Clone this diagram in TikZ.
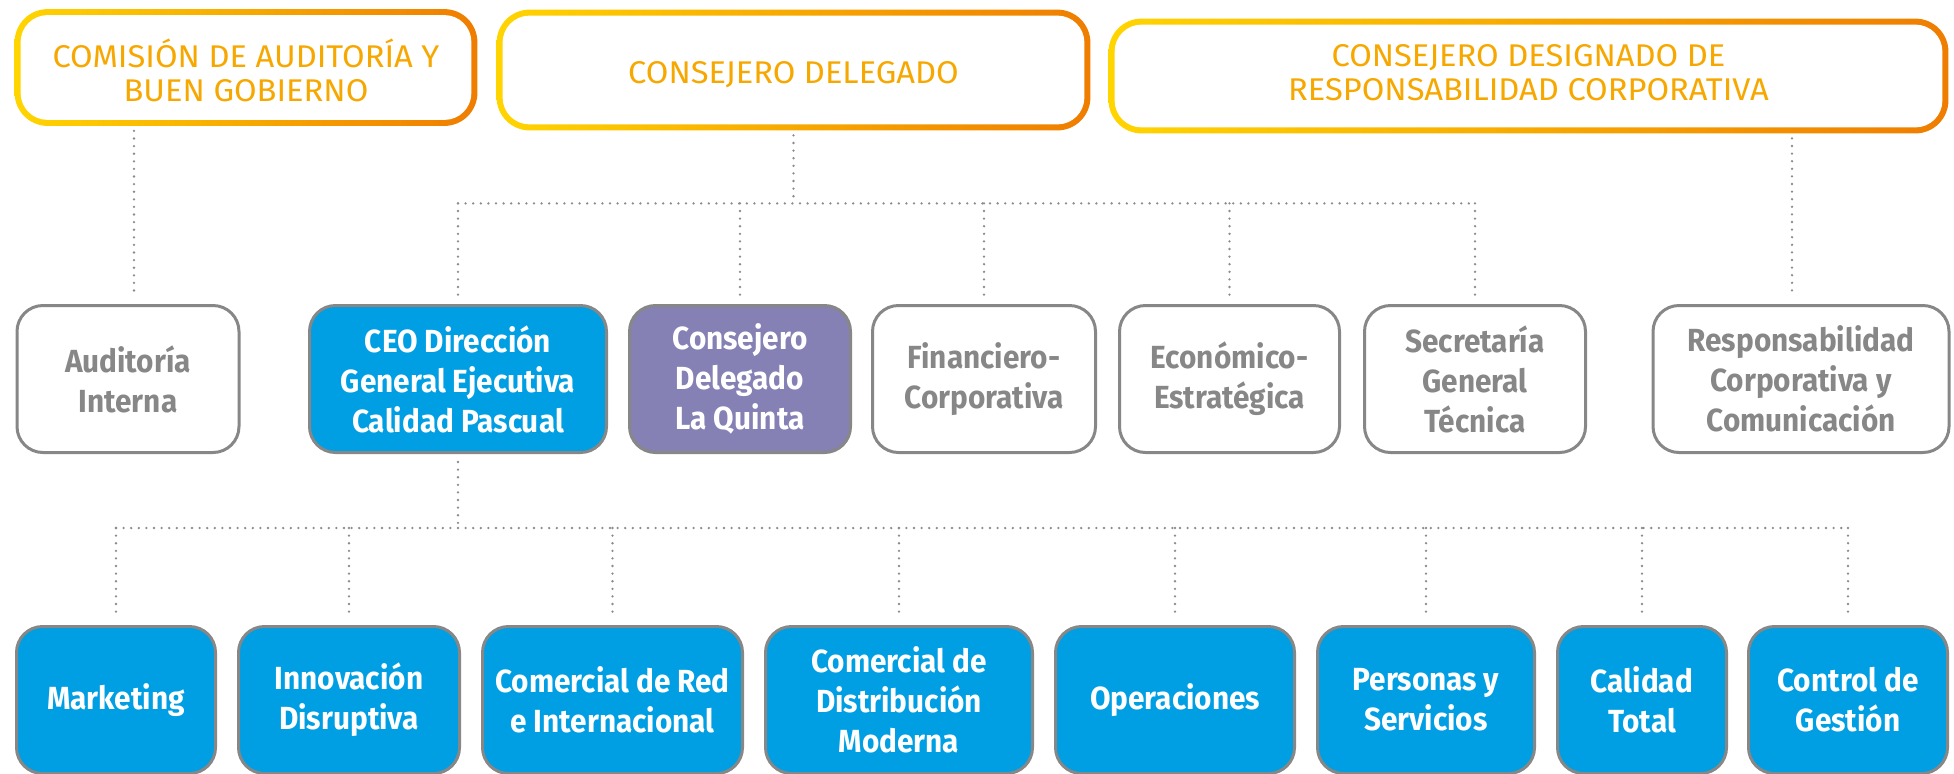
\documentclass[tikz,border=0pt]{standalone}
\usepackage{fontspec}
\setmainfont[FakeStretch=0.93]{Fira Sans}
\newfontfamily\titrefont[FakeStretch=1.04]{Fira Sans}
\usetikzlibrary{calc,backgrounds}
\definecolor{jaune}{HTML}{FFD500}
\definecolor{orangefonce}{HTML}{EF7D00}
\definecolor{titre}{HTML}{F7A800}
\definecolor{bord}{HTML}{878787}
\definecolor{gristexte}{HTML}{878787}
\definecolor{bleu}{HTML}{009FE3}
\definecolor{mauve}{HTML}{8581B5}
\definecolor{points}{HTML}{8C8C8C}
\tikzset{
  haut/.style={minimum height=55pt, inner sep=0pt, align=center, text=titre, text depth=0pt, font=\titrefont\fontsize{15.7}{17}\selectfont},
  boite/.style={draw=bord, line width=1.5pt, rounded corners=13pt, minimum height=73.5pt, inner sep=0pt, align=center, font=\bfseries\fontsize{16}{20}\selectfont},
  grise/.style={boite, fill=white, text=gristexte},
  bleue/.style={boite, fill=bleu, text=white},
  mauvee/.style={boite, fill=mauve, text=white},
  lien/.style={draw=points, line width=1.3pt, line cap=round, dash pattern=on 0pt off 3.8pt},
}
% cadre degrade jaune -> orange autour d'un noeud
\newcommand\anneau[1]{%
  \begin{scope}[on background layer]
    \shade[rounded corners=16.5pt, left color=jaune, right color=orangefonce]
      ([shift={(-1.5pt,1.5pt)}]#1.north west) rectangle ([shift={(1.5pt,-1.5pt)}]#1.south east);
    \fill[white, rounded corners=13.5pt]
      ([shift={(1.5pt,-1.5pt)}]#1.north west) rectangle ([shift={(-1.5pt,1.5pt)}]#1.south east);
  \end{scope}}
\begin{document}
\begin{tikzpicture}[x=0.5pt,y=-0.5pt] % coordonnees en pixels
\useasboundingbox (0,0) rectangle (1954,773);
% les trois responsables
\node[haut, minimum width=228pt, text height=33.5pt] (comision) at (246,67.5) {COMISIÓN DE AUDITORÍA Y\\BUEN GOBIERNO};
\node[haut, minimum width=293.5pt, minimum height=57pt, text height=13pt] (delegado) at (793.5,70) {CONSEJERO DELEGADO};
\node[haut, minimum width=416.5pt, minimum height=54pt, text height=24.5pt] (designado) at (1528.5,76) {CONSEJERO DESIGNADO DE\\RESPONSABILIDAD CORPORATIVA};
\anneau{comision}
\anneau{delegado}
\anneau{designado}
% deuxieme niveau
\node[grise, minimum width=111pt] (auditoria) at (128,379) {Auditoría\\Interna};
\node[bleue, minimum width=148.5pt] (ceo) at (458,379) {CEO Dirección\\General Ejecutiva\\Calidad Pascual};
\node[mauvee, minimum width=110.5pt] (quinta) at (740,379) {Consejero\\Delegado\\La Quinta};
\node[grise, minimum width=111.5pt] (financiero) at (984,379) {Financiero-\\Corporativa};
\node[grise, minimum width=110pt] (economico) at (1229.5,379) {Económico-\\Estratégica};
\node[grise, minimum width=110.5pt] (secretaria) at (1475,379) {Secretaría\\General\\Técnica};
\node[grise, minimum width=148pt] (respons) at (1801,379) {Responsabilidad\\Corporativa y\\Comunicación};
% troisieme niveau
\node[bleue, minimum width=99.5pt] (marketing) at (116,700) {Marketing};
\node[bleue, minimum width=110.5pt] (innovacion) at (349,700) {Innovación\\Disruptiva};
\node[bleue, minimum width=130pt] (comred) at (612.5,700) {Comercial de Red\\e Internacional};
\node[bleue, minimum width=133.5pt] (distrib) at (899,700) {Comercial de\\Distribución\\Moderna};
\node[bleue, minimum width=119.5pt] (operaciones) at (1175,700) {Operaciones};
\node[bleue, minimum width=108.5pt] (personas) at (1426,700) {Personas y\\Servicios};
\node[bleue, minimum width=84.5pt] (calidad) at (1642,700) {Calidad\\Total};
\node[bleue, minimum width=99.5pt] (control) at (1848,700) {Control de\\Gestión};
% liens en pointilles
\draw[lien, shorten <=4pt, shorten >=4.5pt] (comision.south -| auditoria.north) ++(6,0) -- ([xshift=3pt]auditoria.north);
\draw[lien, shorten <=4pt, shorten >=4.5pt] (designado.south -| respons.north) ++(-9,0) -- ([xshift=-4.5pt]respons.north);
\coordinate (bd) at ($(delegado.south)+(0,76)$);
\draw[lien, shorten <=4pt] (delegado.south) -- (bd);
\draw[lien] (bd -| ceo.north) -- (bd -| secretaria.north);
\foreach \n in {ceo,quinta,financiero,economico,secretaria}
  \draw[lien, shorten >=4.5pt] (bd -| \n.north) -- (\n.north);
\coordinate (bc) at ($(ceo.south)+(0,74)$);
\draw[lien, shorten <=4pt] (ceo.south) -- (bc);
\draw[lien] (bc -| marketing.north) -- (bc -| control.north);
\foreach \n in {marketing,innovacion,comred,distrib,operaciones,personas,calidad,control}
  \draw[lien, shorten >=4.5pt] (bc -| \n.north) -- (\n.north);
\end{tikzpicture}
\end{document}
